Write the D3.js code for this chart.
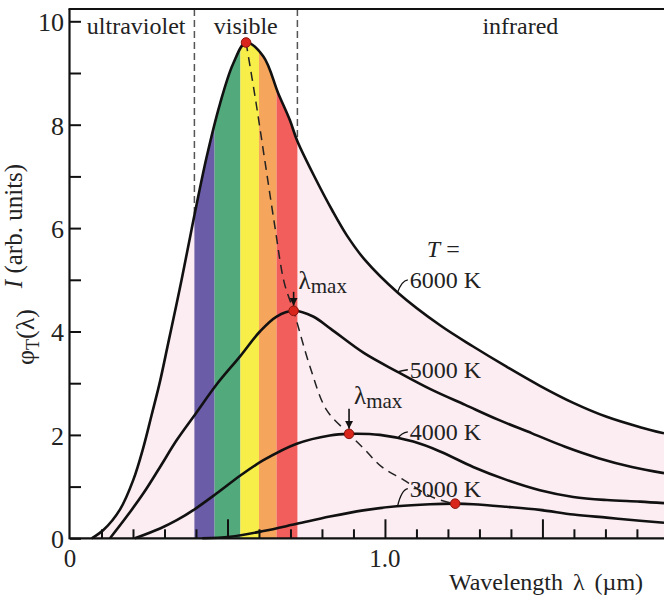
<!DOCTYPE html>
<html><head><meta charset="utf-8">
<script src="https://cdn.jsdelivr.net/npm/d3@7"></script>
<style>
html,body{margin:0;padding:0;background:#fff;}
svg{display:block;}
text{font-family:"Liberation Serif","Times New Roman",serif;fill:#222;}
</style></head>
<body>
<svg id="chart" width="664" height="599"></svg>
<script>
// ---------- DATA ----------
const temps = ["6000 K", "5000 K", "4000 K", "3000 K"];
const lam6000 = [0.069,0.106,0.159,0.201,0.233,0.259,0.286,0.312,0.339,0.355,0.381,0.395,0.434,0.476,0.518,0.559,0.614,0.661,0.698,0.722,0.78,0.832,0.88,0.937,1.041,1.175,1.28,1.386,1.492,1.598,1.704,1.81,1.886];
const val6000 = [0,0.16,0.56,1.13,1.76,2.38,3.04,3.78,4.55,5.02,5.82,6.25,7.38,8.4,9.18,9.59,9.32,8.61,8.09,7.68,6.95,6.35,5.85,5.38,4.75,4.12,3.71,3.32,2.95,2.62,2.35,2.15,2.03];
const lam5000 = [0.127,0.18,0.233,0.286,0.339,0.40,0.466,0.54,0.603,0.656,0.71,0.772,0.828,0.934,1.04,1.146,1.255,1.361,1.467,1.572,1.678,1.784,1.886];
const val5000 = [0,0.42,0.87,1.38,1.90,2.42,2.98,3.52,4.0,4.29,4.40,4.29,4.05,3.58,3.22,2.88,2.58,2.29,2.03,1.77,1.55,1.38,1.26];
const lam4000 = [0.206,0.286,0.339,0.40,0.466,0.54,0.614,0.72,0.825,0.886,0.984,1.09,1.175,1.28,1.386,1.492,1.598,1.704,1.81,1.886];
const val4000 = [0,0.19,0.35,0.58,0.87,1.21,1.51,1.83,1.99,2.02,2.0,1.87,1.68,1.38,1.13,0.93,0.80,0.74,0.71,0.68];
const lam3000 = [0.42,0.508,0.614,0.72,0.825,0.931,1.037,1.143,1.223,1.28,1.386,1.492,1.598,1.704,1.81,1.886];
const val3000 = [0,0.03,0.14,0.28,0.42,0.54,0.62,0.66,0.67,0.66,0.61,0.55,0.46,0.40,0.34,0.30];
const peakLam = [0.559,0.710,0.886,1.223];
const peakVal = [9.59,4.40,2.02,0.67];
const wienLam = [0.559,0.59,0.62,0.65,0.68,0.71,0.762,0.815,0.886,0.937,0.99,1.059,1.149,1.223];
const wienVal = [9.59,8.45,7.25,6.05,4.95,4.40,3.32,2.48,2.02,1.71,1.38,1.13,0.80,0.66];
const bandEdges = [0.395,0.459,0.541,0.600,0.656,0.722];
const regionNames = ["ultraviolet","visible","infrared"];
const regionLam = [0.21,0.558,1.43];
const xTickMajor = [0.5,1.0,1.5];
const xTickMinor = [0.1,0.2,0.3,0.4,0.6,0.7,0.8,0.9,1.1,1.2,1.3,1.4,1.6,1.7,1.8];
const xTickLabels = [[0,"0"],[1.0,"1.0"]];
const yTicks = [0,1,2,3,4,5,6,7,8,9,10];
const yTickLabels = [0,2,4,6,8,10];
const labelLam = 1.079;
const labelVal = [4.84,3.10,1.90,0.80];
const connectLam = 1.04;

// ---------- STYLE ----------
const bandColors = ["#6b5ca8","#52a97c","#f7ee4a","#f5a55c","#f25e5c"];
const pink = "#fcedf3";
const serif = '"Liberation Serif","Times New Roman",serif';

const svg = d3.select("#chart");
const x = d3.scaleLinear().domain([0,1.886]).range([70,664]);
const y = d3.scaleLinear().domain([0,10]).range([538.3,21.3]);
const topY = 9;

const series = [[lam6000,val6000],[lam5000,val5000],[lam4000,val4000],[lam3000,val3000]]
  .map(([l,v]) => l.map((d,i)=>[d,v[i]]));
const interp = (pts, lam) => {
  for (let i=1;i<pts.length;i++){ if (pts[i][0]>=lam){ const a=pts[i-1],b=pts[i]; return a[1]+(b[1]-a[1])*(lam-a[0])/(b[0]-a[0]); } }
  return pts[pts.length-1][1];
};
const curve = d3.curveCatmullRom.alpha(0.5);
const line = d3.line().x(d=>x(d[0])).y(d=>y(d[1])).curve(curve);
const area = d3.area().x(d=>x(d[0])).y0(y(0)).y1(d=>y(d[1])).curve(curve);

svg.append("path").attr("d", area(series[0])).attr("fill", pink);
svg.append("clipPath").attr("id","under6000").append("path").attr("d", area(series[0]));
const bands = svg.append("g").attr("clip-path","url(#under6000)");
for (let i=0;i<bandColors.length;i++){
  bands.append("rect").attr("x", x(bandEdges[i])).attr("width", x(bandEdges[i+1])-x(bandEdges[i]))
    .attr("y", y(10)).attr("height", y(0)-y(10)).attr("fill", bandColors[i]);
}

[bandEdges[0], bandEdges[bandEdges.length-1]].forEach(l=>{
  svg.append("line").attr("x1",x(l)).attr("x2",x(l)).attr("y1",topY).attr("y2",y(interp(series[0],l)))
    .attr("stroke","#555").attr("stroke-width",1.5).attr("stroke-dasharray","7,4");
});

const xMajor = d3.axisBottom(x).tickValues(xTickMajor).tickSize(-19).tickFormat("");
const xMinor = d3.axisBottom(x).tickValues(xTickMinor).tickSize(-9).tickFormat("");
[xMajor,xMinor].forEach(ax=>{
  const g = svg.append("g").attr("transform",`translate(0,${y(0)})`).call(ax);
  g.select(".domain").remove();
  g.selectAll("line").attr("stroke","#111").attr("stroke-width",2);
});
const yAx = d3.axisLeft(y).tickValues(yTicks).tickSize(-11).tickPadding(6)
  .tickFormat(d=> yTickLabels.includes(d) ? String(d) : "");
const gy = svg.append("g").attr("transform",`translate(${x(0)},0)`).call(yAx);
gy.select(".domain").remove();
gy.selectAll("line").attr("stroke","#111").attr("stroke-width",2);
gy.selectAll("text").attr("font-family",serif).attr("font-size",26).attr("fill","#222").attr("dy","0.36em");

xTickLabels.forEach(([v,t])=>{
  svg.append("text").attr("x",x(v)).attr("y",567).attr("text-anchor","middle").attr("font-size",25).text(t);
});

series.forEach(s=>{
  svg.append("path").attr("d",line(s)).attr("fill","none").attr("stroke","#111").attr("stroke-width",2.6);
});

svg.append("line").attr("x1",x(0)-0.5).attr("x2",664).attr("y1",y(0)).attr("y2",y(0)).attr("stroke","#111").attr("stroke-width",2.2);
svg.append("line").attr("x1",x(0)-0.5).attr("x2",x(0)-0.5).attr("y1",topY).attr("y2",y(0)+1).attr("stroke","#111").attr("stroke-width",2.2);
svg.append("line").attr("x1",x(0)-1.5).attr("x2",664).attr("y1",topY).attr("y2",topY).attr("stroke","#111").attr("stroke-width",2);

const wien = wienLam.map((d,i)=>[d,wienVal[i]]);
svg.append("path").attr("d", d3.line().x(d=>x(d[0])).y(d=>y(d[1])).curve(d3.curveCatmullRom.alpha(0.5))(wien))
  .attr("fill","none").attr("stroke","#222").attr("stroke-width",1.5).attr("stroke-dasharray","9,6");

const defs = svg.append("defs");
defs.append("marker").attr("id","ah").attr("viewBox","0 0 10 10").attr("refX",10).attr("refY",5)
  .attr("markerWidth",5).attr("markerHeight",6).attr("orient","auto")
  .append("path").attr("d","M0,0 L10,5 L0,10 z").attr("fill","#111");
const lmOffsets = [[22,19],[30,25]];
[0.710, 0.886].forEach((l,i)=>{
  const pv = peakVal[i+1];
  const px = x(l), py = y(pv);
  svg.append("line").attr("x1",px).attr("x2",px).attr("y1",py-lmOffsets[i][1]).attr("y2",py-5)
    .attr("stroke","#111").attr("stroke-width",1.6).attr("marker-end","url(#ah)");
  const t = svg.append("text").attr("x",px+5).attr("y",py-lmOffsets[i][0]).attr("font-size",25);
  t.append("tspan").text("λ");
  t.append("tspan").attr("font-size",21).attr("dy",4).text("max");
});

peakLam.forEach((l,i)=>{
  svg.append("circle").attr("cx",x(l)).attr("cy",y(peakVal[i])).attr("r",4.8)
    .attr("fill","#d8261c").attr("stroke","#8a1510").attr("stroke-width",1);
});

temps.forEach((t,i)=>{
  const cy = interp(series[i], connectLam);
  const x1 = x(connectLam), y1 = y(cy);
  const x2 = x(labelLam)-2, y2 = y(labelVal[i]+0.16);
  svg.append("path").attr("d",`M${x1},${y1} Q${x1+4},${y2+1} ${x2},${y2}`).attr("fill","none")
    .attr("stroke","#111").attr("stroke-width",1.3);
  svg.append("text").attr("x",x(labelLam)).attr("y",y(labelVal[i])).attr("font-size",24).text(t);
});
const tl = svg.append("text").attr("x",x(labelLam)+17).attr("y",257).attr("font-size",24);
tl.append("tspan").attr("font-style","italic").text("T");
tl.append("tspan").text(" =");

regionNames.forEach((n,i)=>{
  svg.append("text").attr("x",x(regionLam[i])).attr("y",34).attr("text-anchor","middle").attr("font-size",24).text(n);
});

svg.append("text").attr("x",546).attr("y",590).attr("text-anchor","middle").attr("font-size",24)
  .attr("word-spacing",4).text("Wavelength λ (µm)");
const yl1 = svg.append("text").attr("transform","translate(22,226) rotate(-90)").attr("text-anchor","middle").attr("font-size",25);
yl1.append("tspan").attr("font-style","italic").text("I");
yl1.append("tspan").text(" (arb. units)");
const yl2 = svg.append("text").attr("transform","translate(34,337) rotate(-90)").attr("text-anchor","middle").attr("font-size",26);
yl2.append("tspan").text("φ");
yl2.append("tspan").attr("font-size",18).attr("dy",5).text("T");
yl2.append("tspan").attr("dy",-5).text("(λ)");
</script>
</body></html>
